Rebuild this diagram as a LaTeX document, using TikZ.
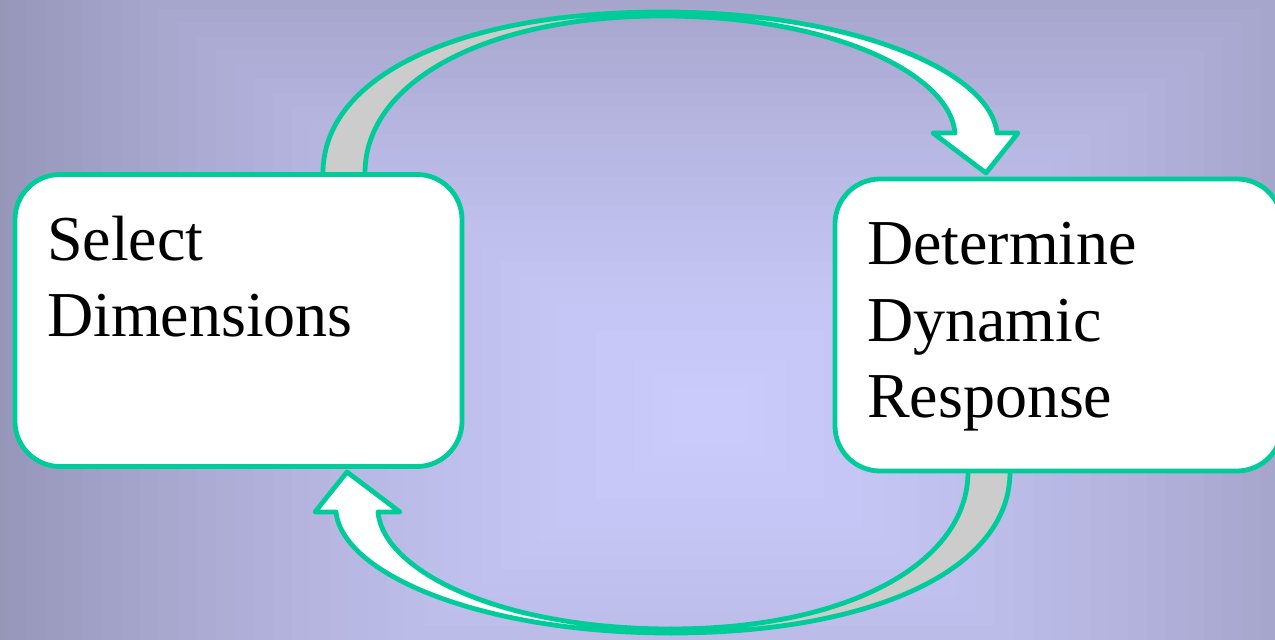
\documentclass[tikz,border=0pt]{standalone}
\usepackage{fontspec}
\setmainfont{Liberation Serif}
\usetikzlibrary{positioning}

\definecolor{boxline}{RGB}{0,204,153}
\definecolor{bandgray}{RGB}{204,204,204}
\definecolor{bgout}{RGB}{146,146,180}
\definecolor{bgin}{RGB}{203,203,252}

\begin{document}
\begin{tikzpicture}[
    x=0.5pt, y=-0.5pt,
    stage/.style={rectangle, rounded corners=22.5pt, draw=boxline, line width=2.4pt, fill=white,
        text width=191.5pt, align=left, inner xsep=16pt, inner ysep=0pt, outer sep=0pt,
        text height=43pt, text depth=103pt, font=\fontsize{32}{38.25}\selectfont},
    band/.style={draw=boxline, line width=2.4pt, line join=round}
]

\useasboundingbox (0,0) rectangle (1275,640);
\clip (0,0) rectangle (1275,640);

% Background
\foreach \i in {0,...,39} {
    \pgfmathsetmacro\s{1-\i/40}
    \pgfmathtruncatemacro\p{100*(1-\s^1.5)}
    \fill[bgin!\p!bgout] ({710-760*\s},{415-560*\s}) rectangle ({710+760*\s},{415+560*\s});
}

% Curved arrows (top one, then the same turned round)
\foreach \ang in {0,180} {
    \begin{scope}[rotate around={\ang:(666.5,322.5)}]
        \filldraw[band, fill=bandgray] (323,190) -- (323,173) .. controls (323,76) and (459,12) .. (662,12)
            -- (662,16) .. controls (485,16) and (365,82) .. (365,173) -- (365,190) -- cycle;
        \filldraw[band, fill=white] (662,12) .. controls (850,12) and (990,70) .. (997,133)
            -- (1018,133) -- (986,173) -- (933,133) -- (955,133)
            .. controls (950,75) and (835,16) .. (662,16) -- cycle;
    \end{scope}
}

% Stages
\node[stage] (select) at (238.5,320.5) {Select\\Dimensions};
\node[stage, right=186.5pt of select, yshift=-2.25pt] (determine) {Determine\\Dynamic\\Response};

\end{tikzpicture}
\end{document}
